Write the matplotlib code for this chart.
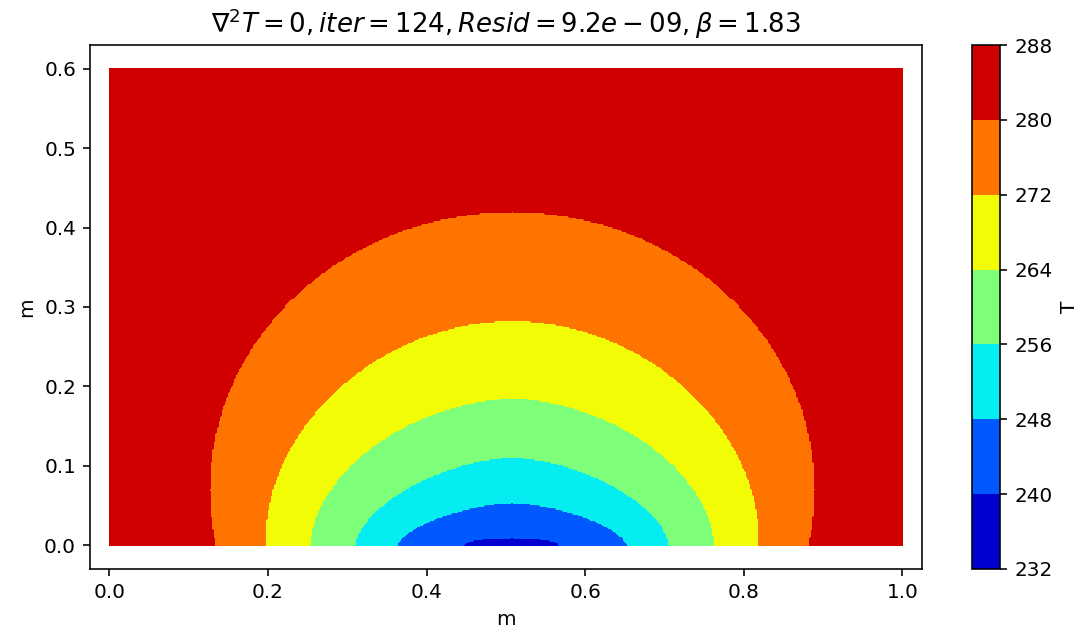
import numpy as np
import matplotlib
matplotlib.use("Agg")
import matplotlib.pyplot as plt

# ── Solver info (title) ────────────────────────────────────────
ITER  = 124
RESID = 9.2e-09
BETA  = 1.83

# ── Contour levels / colorbar ticks ────────────────────────────
LEVELS = [232, 240, 248, 256, 264, 272, 280, 288]

# ── Isotherms (outer -> inner) ─────────────────────────────────
# each one ~ a superellipse sitting on the bottom wall
ISO_T      = [280, 272, 264, 256, 248, 240]
HALF_WIDTH = [0.382, 0.312, 0.255, 0.198, 0.145, 0.060]
TOP_Y      = [0.420, 0.283, 0.185, 0.111, 0.054, 0.010]
CENTRE_Y   = [0.070, 0.005, 0.0, 0.0, 0.0, 0.0]
SHAPE_P    = [2.0, 1.93, 1.8, 1.65, 1.55, 2.0]
CENTRE_X   = 0.508

# plate size
LX, LY = 1.0, 0.6

# ── Grid ───────────────────────────────────────────────────────
x = np.linspace(0, LX, 501)
y = np.linspace(0, LY, 301)
X, Y = np.meshgrid(x, y)

# band value = middle of each level band
T = np.full_like(X, (LEVELS[-1] + LEVELS[-2]) / 2.0)
for t_iso, a, top, yc, p in zip(ISO_T, HALF_WIDTH, TOP_Y, CENTRE_Y, SHAPE_P):
    b = top - yc
    r = np.abs((X - CENTRE_X) / a) ** p + np.abs((Y - yc) / b) ** p
    T[r <= 1.0] = t_iso - 4

# ── Plot ───────────────────────────────────────────────────────
fig = plt.figure(figsize=(1084 / 144, 638 / 144), dpi=144)
ax  = fig.add_axes([90 / 1084, 69 / 638, 831.7 / 1084, 524 / 638])
cax = fig.add_axes([971.7 / 1084, 69 / 638, 28.3 / 1084, 524 / 638])

cf = ax.contourf(X, Y, T, levels=LEVELS, cmap="jet")
ax.set_xlim(-0.0245, 1.0245)
ax.set_ylim(-0.03, 0.63)
ax.set_xlabel("m")
ax.set_ylabel("m")
ax.set_title(rf"$\nabla^2 T = 0, iter = {ITER}, Resid = {RESID:.1e}, \beta = {BETA}$",
             fontsize=13)

cb = fig.colorbar(cf, cax=cax, ticks=LEVELS)
cb.set_label("T")

fig.savefig("out.png", dpi=144)
